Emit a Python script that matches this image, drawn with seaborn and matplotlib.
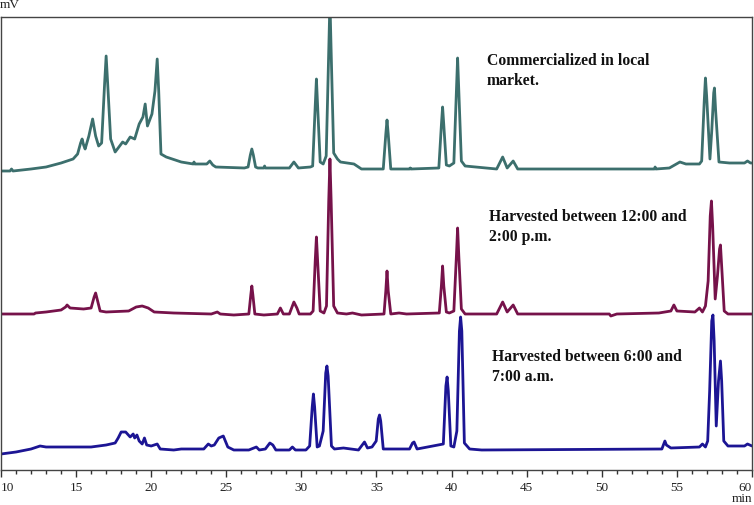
import matplotlib
matplotlib.use("Agg")
import matplotlib.pyplot as plt
import seaborn as sns
import pandas as pd
from matplotlib.ticker import MultipleLocator

sns.set_theme(style="white")
plt.rcParams['font.family'] = ['Liberation Serif', 'DejaVu Serif']

# ---- data: retention time (min) and detector signal (mV, arbitrary) ----
commercial_t = [10.0, 10.6, 10.7, 10.8, 12.0, 13.0, 14.0, 14.8, 15.1, 15.3, 15.4, 15.5, 15.6, 15.85, 16.1, 16.3, 16.5,
                16.7, 16.9, 17.0, 17.1, 17.3, 17.6, 18.1, 18.3, 18.6, 18.9, 19.2, 19.45, 19.6, 19.75, 20.05, 20.25,
                20.4, 20.5, 20.65, 21.0, 22.0, 22.8, 22.85, 22.9, 23.7, 23.9, 24.1, 24.3, 26.2, 26.45, 26.6, 26.7,
                26.8, 26.95, 27.1, 27.5, 27.55, 27.6, 29.2, 29.5, 29.8, 30.6, 30.75, 30.92, 31.0, 31.08, 31.25, 31.45,
                31.65, 31.82, 31.9, 31.98, 32.15, 32.4, 32.6, 33.5, 34.0, 35.45, 35.62, 35.7, 35.78, 35.95, 37.2, 37.25,
                37.3, 39.15, 39.32, 39.4, 39.48, 39.65, 39.85, 40.15, 40.32, 40.4, 40.48, 40.65, 40.9, 43.0, 43.4, 43.7,
                44.1, 44.4, 53.5, 53.55, 53.6, 54.5, 55.2, 55.6, 56.5, 56.65, 56.82, 56.9, 56.98, 57.2, 57.32, 57.45,
                57.5, 57.58, 57.8, 58.5, 59.5, 59.7, 59.9, 60.0]
commercial_v = [300, 300, 302, 300, 302, 304, 308, 312, 317, 328, 332, 326, 322, 335, 352, 335, 325,
                328, 388, 415, 388, 332, 319, 329, 327, 334, 332, 347, 354, 367, 345, 357, 380,
                412, 380, 317, 314, 309, 307, 309, 307, 307, 310, 306, 304, 303, 304, 316, 322,
                316, 304, 303, 303, 305, 303, 303, 309, 303, 304, 305, 365, 392, 365, 309, 307,
                315, 420, 470, 420, 318, 312, 309, 307, 302, 302, 337, 351, 337, 302, 302, 303,
                302, 303, 346, 364, 346, 306, 305, 308, 380, 413, 380, 310, 305, 302, 314, 303,
                310, 302, 302, 304, 302, 303, 309, 307, 307, 310, 370, 393, 375, 312, 340, 378,
                383, 360, 309, 308, 308, 310, 308, 308]

midday_t = [10.0, 12.2, 12.3, 13.0, 14.0, 14.3, 14.4, 14.6, 15.5, 16.0, 16.2, 16.3, 16.4, 16.6, 17.0, 18.5, 19.0,
            19.4, 19.8, 20.2, 21.5, 24.0, 24.4, 24.6, 25.5, 26.5, 26.63, 26.7, 26.77, 26.9, 27.5, 28.4, 28.6,
            28.8, 29.2, 29.5, 29.7, 29.85, 30.6, 30.78, 30.92, 31.0, 31.08, 31.25, 31.5, 31.67, 31.82, 31.9, 31.98,
            32.15, 32.4, 33.0, 33.4, 34.0, 35.5, 35.62, 35.7, 35.78, 35.95, 36.5, 37.0, 39.18, 39.32, 39.4, 39.48,
            39.65, 39.85, 40.15, 40.32, 40.4, 40.48, 40.65, 40.9, 43.0, 43.4, 43.7, 44.1, 44.4, 50.5, 50.6, 51.0,
            53.8, 54.6, 54.8, 55.0, 56.2, 56.5, 56.7, 56.9, 57.08, 57.22, 57.3, 57.38, 57.55, 57.7, 57.84, 57.9,
            57.98, 58.15, 58.4, 60.0]
midday_v = [157, 157, 158, 159, 161, 164, 166, 163, 162, 163, 174, 178, 172, 160, 159, 160, 164,
            165, 163, 159, 158, 157, 159, 157, 156, 157, 176, 185, 176, 157, 156, 157, 163,
            157, 157, 169, 163, 157, 157, 160, 210, 234, 210, 160, 158, 165, 270, 312, 270,
            165, 158, 157, 158, 156, 157, 180, 200, 180, 157, 158, 157, 158, 185, 205, 185,
            159, 158, 160, 215, 243, 215, 162, 157, 157, 169, 159, 166, 157, 157, 155, 157,
            158, 160, 166, 160, 159, 163, 159, 165, 190, 255, 270, 245, 172, 195, 222, 226,
            205, 160, 157, 157]

morning_t = [10.0, 11.0, 12.0, 12.6, 13.0, 16.0, 16.5, 17.0, 17.6, 17.8, 18.0, 18.3, 18.6, 18.8, 18.9, 19.05, 19.2,
             19.4, 19.55, 19.7, 20.0, 20.4, 20.6, 21.5, 22.0, 23.5, 23.8, 24.0, 24.2, 24.5, 24.8, 25.1, 25.5,
             26.5, 27.0, 27.2, 27.6, 27.9, 28.1, 28.3, 29.2, 29.4, 29.6, 30.3, 30.55, 30.72, 30.8, 30.88, 31.05,
             31.2, 31.45, 31.62, 31.7, 31.78, 32.0, 32.2, 32.8, 33.8, 34.1, 34.2, 34.4, 34.7, 34.98, 35.12, 35.2,
             35.28, 35.45, 37.2, 37.4, 37.5, 37.7, 39.45, 39.62, 39.7, 39.78, 39.95, 40.15, 40.35, 40.52, 40.6, 40.68,
             40.85, 41.2, 42.0, 54.0, 54.1, 54.2, 54.3, 54.6, 56.5, 56.7, 56.9, 57.05, 57.18, 57.32, 57.4, 57.48,
             57.62, 57.77, 57.9, 57.98, 58.12, 58.4, 59.5, 59.7, 60.0]
morning_v = [17, 19, 22, 25, 24, 24, 25, 26, 28, 33, 39, 39, 34, 37, 33, 36, 30,
             27, 33, 26, 25, 27, 22, 21, 22, 22, 27, 25, 26, 33, 35, 24, 21,
             21, 24, 21, 22, 28, 26, 21, 21, 24, 21, 21, 25, 64, 77, 64, 24,
             25, 40, 98, 105, 95, 25, 22, 23, 21, 27, 29, 23, 24, 30, 52, 56,
             50, 22, 22, 28, 29, 22, 27, 85, 94, 80, 25, 24, 40, 140, 154, 140,
             28, 22, 21, 22, 26, 30, 26, 23, 24, 27, 24, 30, 80, 150, 156, 130,
             45, 90, 110, 90, 30, 25, 25, 27, 25]

labels = ["Commercialized in local\nmarket.",
          "Harvested between 12:00 and\n2:00 p.m.",
          "Harvested between 6:00 and\n7:00 a.m."]
x_ticks = [10, 15, 20, 25, 30, 35, 40, 45, 50, 55, 60]

colors = ["#3c6f6d", "#76124a", "#1c1594"]

W, H = 754, 506
fig = plt.figure(figsize=(W / 100, H / 100), dpi=100)
ax = fig.add_axes([1 / W, (H - 471) / H, 751 / W, (471 - 18) / H])

for t, v, c in [(commercial_t, commercial_v, colors[0]),
                (midday_t, midday_v, colors[1]),
                (morning_t, morning_v, colors[2])]:
    df = pd.DataFrame({"t": t, "v": v})
    sns.lineplot(data=df, x="t", y="v", ax=ax, color=c, lw=2.0,
                 sort=False, estimator=None)

ax.set_xlim(10, 60)
ax.set_ylim(1, 454)
ax.set_xlabel("")
ax.set_ylabel("")
ax.set_yticks([])
ax.set_xticks(x_ticks)
ax.xaxis.set_minor_locator(MultipleLocator(1))
ax.set_xticklabels([str(v) for v in x_ticks], fontsize=9.5, color="#222222")
tl = ax.get_xticklabels()
tl[0].set_ha("left")
tl[-1].set_ha("right")
ax.tick_params(axis="x", which="major", direction="out", length=5, width=1,
               color="#333333", pad=3, bottom=True)
ax.tick_params(axis="x", which="minor", direction="out", length=3, width=1,
               color="#333333", bottom=True)
for s in ax.spines.values():
    s.set_color("#444444")
    s.set_linewidth(1.0)
    s.set_visible(True)

text_pos = [(487, 61), (489, 217), (492, 357)]
for (px, py), lab in zip(text_pos, labels):
    fig.text(px / W, 1 - (py - 8) / H, lab, fontsize=11.3, fontweight="bold",
             ha="left", va="top", linespacing=1.3, color="#111111")

fig.text(0.0, 1 - 8 / H, "mV", fontsize=9.5, ha="left", va="baseline", color="#222222")
fig.text(752 / W, 1 - 502 / H, "min", fontsize=9.5, ha="right", va="baseline", color="#222222")

fig.savefig("out.png", dpi=100)
